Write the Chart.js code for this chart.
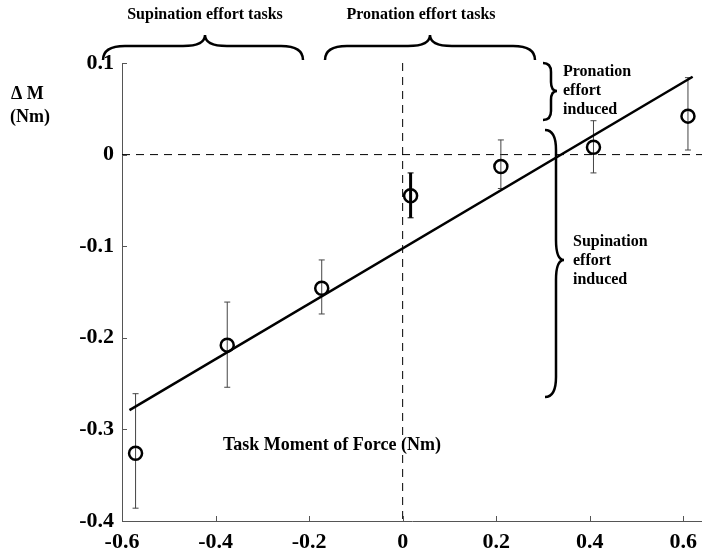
<!DOCTYPE html>
<html lang="en">
<head>
    <meta charset="UTF-8">
    <title>Task Moment of Force vs Delta M</title>
    <script src="https://cdn.jsdelivr.net/npm/chart.js"></script>
    <style>
        body { margin: 0; background: #fff; }
        canvas { display: block; }
    </style>
</head>
<body>

    <canvas id="momentChart" width="702" height="552"></canvas>

    <script>
        // Task moment of force (x) and induced change in moment (y), Nm
        const taskMoment = [-0.571, -0.375, -0.173, 0.017, 0.21, 0.408, 0.61];
        const deltaM     = [-0.326, -0.208, -0.146, -0.045, -0.013, 0.008, 0.042];
        const errLow     = [-0.386, -0.254, -0.174, -0.069, -0.037, -0.020, 0.005];
        const errHigh    = [-0.261, -0.161, -0.115, -0.020, 0.016, 0.037, 0.084];

        // Regression line end points
        const fitX = [-0.584, 0.62];
        const fitY = [-0.279, 0.085];

        const xTicks = [-0.6, -0.4, -0.2, 0, 0.2, 0.4, 0.6];
        const yTicks = [-0.4, -0.3, -0.2, -0.1, 0, 0.1];

        const serif = '"Liberation Serif", "Times New Roman", serif';

        // curly brace lying flat, tip pointing up
        function hBrace(ctx, x1, x2, xTip, yEnd, yMid, yTip, r) {
            ctx.beginPath();
            ctx.moveTo(x1, yEnd);
            ctx.quadraticCurveTo(x1, yMid, x1 + r, yMid);
            ctx.lineTo(xTip - r, yMid);
            ctx.quadraticCurveTo(xTip, yMid, xTip, yTip);
            ctx.quadraticCurveTo(xTip, yMid, xTip + r, yMid);
            ctx.lineTo(x2 - r, yMid);
            ctx.quadraticCurveTo(x2, yMid, x2, yEnd);
            ctx.stroke();
        }

        // curly brace standing up, tip pointing right
        function vBrace(ctx, y1, y2, yTip, xEnd, xMid, xTip, r) {
            ctx.beginPath();
            ctx.moveTo(xEnd, y1);
            ctx.quadraticCurveTo(xMid, y1, xMid, y1 + r);
            ctx.lineTo(xMid, yTip - r);
            ctx.quadraticCurveTo(xMid, yTip, xTip, yTip);
            ctx.quadraticCurveTo(xMid, yTip, xMid, yTip + r);
            ctx.lineTo(xMid, y2 - r);
            ctx.quadraticCurveTo(xMid, y2, xEnd, y2);
            ctx.stroke();
        }

        const extras = {
            id: 'extras',
            beforeDatasetsDraw(chart) {
                const { ctx, chartArea: a, scales: { x, y } } = chart;
                ctx.save();

                // zero reference lines
                ctx.strokeStyle = '#000';
                ctx.lineWidth = 1;
                ctx.setLineDash([8, 6]);
                const y0 = y.getPixelForValue(0);
                const x0 = x.getPixelForValue(0);
                ctx.beginPath();
                ctx.moveTo(a.left, y0);
                ctx.lineTo(a.right, y0);
                ctx.moveTo(x0, a.top);
                ctx.lineTo(x0, a.bottom);
                ctx.stroke();
                ctx.setLineDash([]);

                // error bars (the near-zero task is drawn heavier in the original)
                taskMoment.forEach((tm, i) => {
                    const px = x.getPixelForValue(tm);
                    const lo = y.getPixelForValue(errLow[i]);
                    const hi = y.getPixelForValue(errHigh[i]);
                    const heavy = i === 3;
                    ctx.strokeStyle = heavy ? '#000' : '#444';
                    ctx.lineWidth = heavy ? 3 : 1;
                    ctx.beginPath();
                    ctx.moveTo(px, lo);
                    ctx.lineTo(px, hi);
                    ctx.stroke();
                    ctx.lineWidth = 1;
                    ctx.beginPath();
                    ctx.moveTo(px - 3, lo);
                    ctx.lineTo(px + 3, lo);
                    ctx.moveTo(px - 3, hi);
                    ctx.lineTo(px + 3, hi);
                    ctx.stroke();
                });
                ctx.restore();
            },
            afterDraw(chart) {
                const { ctx, chartArea: a, scales: { x, y } } = chart;
                ctx.save();

                // inward tick marks
                ctx.strokeStyle = '#555';
                ctx.lineWidth = 1;
                ctx.beginPath();
                xTicks.forEach(v => {
                    const px = Math.round(x.getPixelForValue(v)) + 0.5;
                    ctx.moveTo(px, a.bottom);
                    ctx.lineTo(px, a.bottom - 5);
                });
                yTicks.forEach(v => {
                    const py = Math.round(y.getPixelForValue(v)) + 0.5;
                    ctx.moveTo(a.left, py);
                    ctx.lineTo(a.left + 5, py);
                });
                ctx.stroke();

                // braces
                ctx.strokeStyle = '#000';
                ctx.lineWidth = 2.5;
                hBrace(ctx, 103, 303, 205, 60, 46, 35, 22);
                hBrace(ctx, 325, 535, 430, 60, 46, 35, 22);
                vBrace(ctx, 63, 120, 91, 543, 551, 557, 9);
                vBrace(ctx, 130, 397, 260, 545, 556, 564, 20);

                // text
                ctx.fillStyle = '#000';
                ctx.textBaseline = 'middle';
                ctx.font = 'bold 16px ' + serif;
                ctx.textAlign = 'center';
                ctx.fillText('Supination effort tasks', 205, 15);
                ctx.fillText('Pronation effort tasks', 421, 15);

                ctx.textAlign = 'left';
                ['Pronation', 'effort', 'induced'].forEach((t, i) => ctx.fillText(t, 563, 72 + i * 19));
                ['Supination', 'effort', 'induced'].forEach((t, i) => ctx.fillText(t, 573, 242 + i * 19));

                ctx.font = 'bold 18px ' + serif;
                ctx.fillText('\u0394 M', 11, 94);
                ctx.fillText('(Nm)', 10, 117);

                ctx.font = 'bold 18px ' + serif;
                ctx.fillText('Task Moment of Force (Nm)', 223, 445);
                ctx.restore();
            }
        };

        const tickFont = { family: serif, size: 22, weight: 'bold' };

        const ctx = document.getElementById('momentChart').getContext('2d');
        const momentChart = new Chart(ctx, {
            type: 'scatter',
            data: {
                datasets: [{
                    label: 'Fit',
                    data: fitX.map((v, i) => ({ x: v, y: fitY[i] })),
                    showLine: true,
                    borderColor: '#000',
                    borderWidth: 2.5,
                    pointRadius: 0,
                    order: 2
                }, {
                    label: 'Delta M',
                    data: taskMoment.map((v, i) => ({ x: v, y: deltaM[i] })),
                    pointStyle: 'circle',
                    pointRadius: 6.5,
                    borderWidth: 2.5,
                    borderColor: '#000',
                    backgroundColor: 'rgba(0,0,0,0)',
                    order: 1
                }]
            },
            options: {
                responsive: false,
                animation: false,
                events: [],
                layout: { autoPadding: false, padding: { left: 0, right: 0, top: 63, bottom: 0 } },
                plugins: {
                    legend: { display: false },
                    tooltip: { enabled: false }
                },
                scales: {
                    x: {
                        type: 'linear',
                        min: -0.6,
                        max: 0.64,
                        grid: { display: false, drawTicks: false },
                        border: { display: true, color: '#555', width: 1 },
                        ticks: { font: tickFont, color: '#000', padding: 8, maxRotation: 0, callback: v => String(v) },
                        afterBuildTicks: s => { s.ticks = xTicks.map(v => ({ value: v })); },
                        afterFit: s => { s.height = 31; s.paddingLeft = 0; s.paddingRight = 0; }
                    },
                    y: {
                        type: 'linear',
                        min: -0.4,
                        max: 0.1,
                        grid: { display: false, drawTicks: false },
                        border: { display: true, color: '#555', width: 1 },
                        ticks: { font: tickFont, color: '#000', padding: 8, callback: v => String(v) },
                        afterBuildTicks: s => { s.ticks = yTicks.map(v => ({ value: v })); },
                        afterFit: s => { s.width = 122; }
                    }
                }
            },
            plugins: [extras]
        });
    </script>

</body>
</html>
